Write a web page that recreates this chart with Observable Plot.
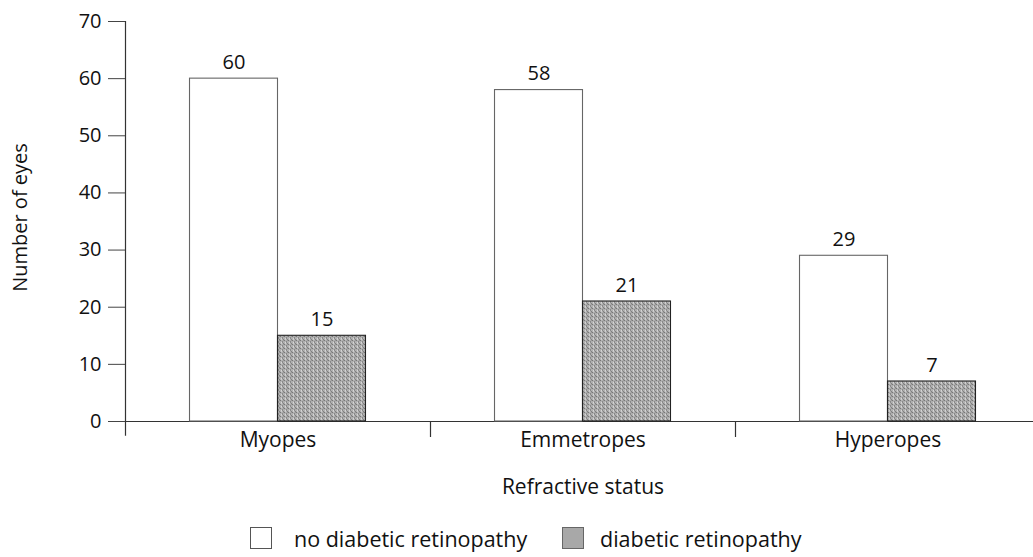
<!DOCTYPE html>
<html>
<head>
<meta charset="utf-8">
<script src="https://cdn.jsdelivr.net/npm/d3@7"></script>
<script src="https://cdn.jsdelivr.net/npm/@observablehq/plot@0.6"></script>
<style>
  body { margin: 0; background: #fff; font-family: "Open Sans", "Noto Sans", sans-serif; }
  #chart svg { display: block; }
  #legend { position: relative; height: 42px; font-size: 21.5px; color: #111; }
  .item { position: absolute; top: 12px; display: flex; align-items: center; height: 22px; }
  .sw { width: 22px; height: 22px; box-sizing: border-box; margin-right: 22px; }
</style>
</head>
<body>
<div id="chart"></div>
<div id="legend"></div>
<script>
const categories = ["Myopes", "Emmetropes", "Hyperopes"];
const seriesNames = ["no diabetic retinopathy", "diabetic retinopathy"];
const noRetinopathy = [60, 58, 29];
const withRetinopathy = [15, 21, 7];
const yTicks = [0, 10, 20, 30, 40, 50, 60, 70];

// layout: each category occupies one unit on a linear x scale; bars take a fraction of it
const barFrac = 0.2885;
const data = [];
categories.forEach((c, i) => {
  data.push({cat: c, idx: i, s: 0, series: seriesNames[0], value: noRetinopathy[i]});
  data.push({cat: c, idx: i, s: 1, series: seriesNames[1], value: withRetinopathy[i]});
});
const bx1 = d => d.idx + 0.5 - (d.s === 0 ? barFrac : 0);
const bx2 = d => d.idx + 0.5 + (d.s === 1 ? barFrac : 0);
const bxMid = d => (bx1(d) + bx2(d)) / 2;

const defs = () => {
  const d = d3.create("svg:defs");
  const p = d.append("pattern").attr("id", "grain").attr("patternUnits", "userSpaceOnUse")
    .attr("width", 4).attr("height", 4);
  p.append("rect").attr("width", 4).attr("height", 4).attr("fill", "#b0b0b0");
  [[0,0,"#777"],[2,1,"#888"],[1,2,"#d6d6d6"],[3,3,"#808080"],[3,0,"#999"],[1,3,"#ccc"],[2,2,"#8a8a8a"]]
    .forEach(([x, y, c]) => p.append("rect").attr("x", x).attr("y", y).attr("width", 1).attr("height", 1).attr("fill", c));
  return d.node();
};

const fontStack = "'Open Sans', 'Noto Sans', sans-serif";

const chart = Plot.plot({
  width: 1033,
  height: 515,
  marginLeft: 125,
  marginRight: 0,
  marginTop: 21,
  marginBottom: 94,
  style: {fontFamily: fontStack, color: "#111", background: "#fff"},
  x: {domain: [0, 3], range: [125, 1040]},
  y: {domain: [0, 70]},
  marks: [
    defs,
    Plot.ruleY([0], {stroke: "#333", strokeWidth: 1.2}),
    Plot.rectY(data, {
      x1: bx1, x2: bx2, y1: 0, y2: "value",
      fill: d => d.s === 0 ? "#ffffff" : "url(#grain)",
      stroke: d => d.s === 0 ? "#666" : "#222",
      strokeWidth: 1.1
    }),
    Plot.text(data, {x: bxMid, y: "value", text: d => String(d.value), dy: -16, fontSize: 20, fill: "#111"}),
    Plot.ruleX([0], {y1: -2.6, y2: 70, stroke: "#333", strokeWidth: 1.2}),
    Plot.ruleX([1, 2], {y1: -2.8, y2: 0, stroke: "#333", strokeWidth: 1.2}),
    Plot.axisY({ticks: yTicks, tickSize: 17, tickPadding: 7, fontSize: 20, label: null, stroke: "#444"}),
    Plot.axisX({ticks: [0.5, 1.5, 2.5], tickFormat: v => categories[Math.floor(v)], tickSize: 0, tickPadding: 11, fontSize: 21, label: null}),
    Plot.text(["Number of eyes"], {frameAnchor: "left", textAnchor: "middle", dx: -105, dy: -4, rotate: -90, fontSize: 20, fill: "#111"}),
    Plot.text(["Refractive status"], {x: [1.5], frameAnchor: "bottom", dy: 72, fontSize: 21, fill: "#111"})
  ]
});
document.getElementById("chart").appendChild(chart);

const legend = document.getElementById("legend");
const legendLeft = [250, 562];
seriesNames.forEach((s, i) => {
  const item = document.createElement("div");
  item.className = "item";
  item.style.left = legendLeft[i] + "px";
  const sw = document.createElement("div");
  sw.className = "sw";
  if (i === 0) { sw.style.background = "#fff"; sw.style.border = "1px solid #555"; }
  else { sw.style.background = "#a8a8a8"; sw.style.border = "1px solid #666"; sw.style.marginRight = "16px"; }
  const t = document.createElement("span");
  t.textContent = s;
  item.appendChild(sw); item.appendChild(t);
  legend.appendChild(item);
});
</script>
</body>
</html>
